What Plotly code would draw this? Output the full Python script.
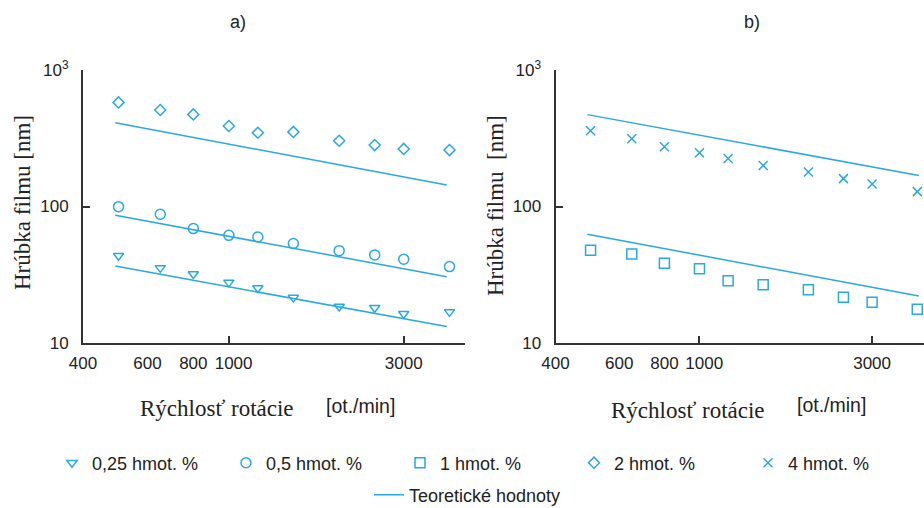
import math
import plotly.graph_objects as go

# Rotation speed [rpm]
rpm = [500, 650, 800, 1000, 1200, 1500, 2000, 2500, 3000, 4000]

# Measured film thickness [nm]
h_025 = [43.6, 35.5, 32.0, 27.8, 25.3, 21.5, 18.5, 18.1, 16.4, 16.9]
h_05 = [99.7, 87.7, 68.9, 61.5, 59.8, 53.5, 47.5, 44.2, 41.1, 36.3]
h_1 = [47.8, 44.9, 38.4, 35.0, 28.6, 26.7, 24.6, 21.6, 19.9, 17.7]
h_2 = [579, 509, 473, 389, 347, 352, 303, 282, 264, 259]
h_4 = [359, 314, 274, 248, 225, 200, 179, 160, 146, 128.5]

# Theoretical thickness (power-law lines, end points)
rpm_theory_a = [490, 3930]
rpm_theory_b = [490, 4040]
t_025 = [36.6, 13.2]
t_05 = [86.2, 30.6]
t_2 = [411, 143.7]
t_1 = [62.6, 22.1]
t_4 = [471, 169]

x_ticks = [400, 600, 800, 1000, 3000]
x_ticktext = ["400", "600", "800", "\u00a0\u00a01000", "3000"]
x_minor_ticks = [1000, 3000]
y_ticks = [10, 100, 1000]
y_ticktext = ["10", "100", "10<sup>3</sup>"]

BLUE = "#2aa8e0"
AXIS = "#333333"
TXT = "#222222"
SANS = "Liberation Sans, Arial, sans-serif"
SERIF = "Liberation Serif, Times New Roman, serif"

W, H = 924, 508

fig = go.Figure()

def markers(x, y, name, symbol, size, xa, ya, lw=1.5):
    fig.add_trace(go.Scatter(
        x=x, y=y, mode="markers", name=name, xaxis=xa, yaxis=ya,
        marker=dict(symbol=symbol, size=size, color=BLUE,
                    line=dict(color=BLUE, width=lw)),
        legend="legend", cliponaxis=False))

def theory(x, y, xa, ya, show):
    fig.add_trace(go.Scatter(
        x=x, y=y, mode="lines", name="Teoretické hodnoty", xaxis=xa, yaxis=ya,
        line=dict(color=BLUE, width=1.5), legend="legend2",
        showlegend=show, legendgroup="theory"))

markers(rpm, h_025, "0,25 hmot. %", "triangle-down-open", 9, "x", "y")
markers(rpm, h_05, "0,5 hmot. %", "circle-open", 10, "x", "y")
markers(rpm, h_1, "1 hmot. %", "square-open", 10, "x2", "y2")
markers(rpm, h_2, "2 hmot. %", "diamond-open", 8.5, "x", "y")
markers(rpm, h_4, "4 hmot. %", "x-thin", 9, "x2", "y2")

theory(rpm_theory_a, t_025, "x", "y", True)
theory(rpm_theory_a, t_05, "x", "y", False)
theory(rpm_theory_a, t_2, "x", "y", False)
theory(rpm_theory_b, t_1, "x2", "y2", False)
theory(rpm_theory_b, t_4, "x2", "y2", False)

# empty traces so the tick-only overlay axes are drawn
fig.add_trace(go.Scatter(x=[], y=[], xaxis="x3", yaxis="y", showlegend=False))
fig.add_trace(go.Scatter(x=[], y=[], xaxis="x4", yaxis="y2", showlegend=False))

lo = math.log10(400)
xr_a = [lo, lo + 382 / 366.5]
xr_b = [lo, lo + 368.5 / 361.8]
dom_a = [83 / W, 465 / W]
dom_b = [555.5 / W, 1.0]
dom_y = [(H - 343) / H, (H - 70) / H]

def xaxis(dom, rng, anchor):
    return dict(type="log", domain=dom, range=rng, anchor=anchor,
                showgrid=False, zeroline=False, showline=True,
                linecolor=AXIS, linewidth=2, ticks="", tickangle=0,
                tickmode="array", tickvals=x_ticks, ticktext=x_ticktext,
                tickfont=dict(family=SANS, size=17, color=TXT),
                ticklabelstandoff=4)

def xtickaxis(dom, rng, anchor, over):
    return dict(type="log", domain=dom, range=rng, anchor=anchor,
                overlaying=over, showgrid=False, zeroline=False,
                showline=False, ticks="inside", ticklen=7, tickwidth=2,
                tickcolor=AXIS, tickmode="array", tickvals=x_minor_ticks,
                showticklabels=False)

def yaxis(anchor):
    return dict(type="log", domain=dom_y, range=[1, 3], anchor=anchor,
                showgrid=False, zeroline=False, showline=True,
                linecolor=AXIS, linewidth=2, ticks="inside", ticklen=7,
                tickwidth=2, tickcolor=AXIS, tickmode="array",
                tickvals=y_ticks, ticktext=y_ticktext,
                tickfont=dict(family=SANS, size=17, color=TXT),
                ticklabelstandoff=9)

annotations = []

def text(x, y, s, family, size, angle=0):
    annotations.append(dict(
        x=x / W, y=1 - y / H, xref="paper", yref="paper", text=s,
        showarrow=False, xanchor="center", yanchor="middle", textangle=angle,
        font=dict(family=family, size=size, color=TXT)))

text(238, 22, "a)", SANS, 18)
text(752, 22, "b)", SANS, 18)
text(23, 203, "Hrúbka filmu [nm]", SERIF, 23, -90)
text(496, 206, "Hrúbka filmu\u00a0 [nm]", SERIF, 23, -90)
text(216.5, 408, "Rýchlosť rotácie", SERIF, 23)
text(360, 406, "[ot./min]", SANS, 19.5)
text(687.5, 410, "Rýchlosť rotácie", SERIF, 23)
text(831, 405, "[ot./min]", SANS, 19.5)

fig.update_layout(
    width=W, height=H,
    margin=dict(l=0, r=0, t=0, b=0, autoexpand=False),
    paper_bgcolor="white", plot_bgcolor="white",
    xaxis=xaxis(dom_a, xr_a, "y"),
    yaxis=yaxis("x"),
    xaxis2=xaxis(dom_b, xr_b, "y2"),
    yaxis2=yaxis("x2"),
    xaxis3=xtickaxis(dom_a, xr_a, "y", "x"),
    xaxis4=xtickaxis(dom_b, xr_b, "y2", "x2"),
    annotations=annotations,
    legend=dict(orientation="h", x=52 / W, xanchor="left",
                y=1 - 463 / H, yanchor="middle",
                entrywidth=129, entrywidthmode="pixels",
                font=dict(family=SANS, size=18, color=TXT),
                bgcolor="rgba(0,0,0,0)", traceorder="normal"),
    legend2=dict(orientation="h", x=369 / W, xanchor="left",
                 y=1 - 495 / H, yanchor="middle",
                 font=dict(family=SANS, size=18, color=TXT),
                 bgcolor="rgba(0,0,0,0)"),
    showlegend=True,
)

fig.write_html("out.html")
